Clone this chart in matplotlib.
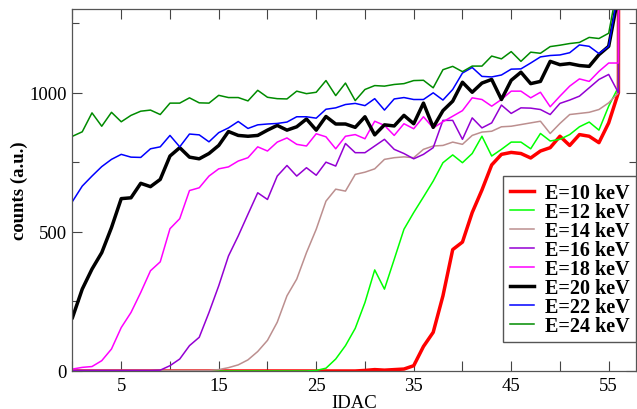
import numpy as np
import matplotlib
matplotlib.use('Agg')
import matplotlib.pyplot as plt
from matplotlib.ticker import MultipleLocator, FuncFormatter

plt.rcParams['font.family'] = ['Liberation Serif', 'DejaVu Serif']

# IDAC 스캔 값 (0..57), 마지막 점은 포화 (그래프 밖으로)
idac = list(range(58))

e10 = [0]*30 + [2, 5, 3, 5, 7, 19, 88, 139, 270, 436, 463, 569, 650, 740, 778, 785, 781, 765, 790,
                802, 843, 810, 849, 843, 820, 891, 1000, 40000]
e12 = [0]*25 + [2, 10, 43, 91, 153, 246, 363, 294, 401, 509, 569, 625, 682, 748, 776, 748, 781, 843,
                772, 796, 822, 822, 798, 853, 826, 832, 849, 877, 894, 865, 951, 1020, 40000]
e14 = [2]*14 + [2, 5, 12, 22, 40, 70, 110, 175, 270, 330, 425, 509, 610, 653, 646, 706, 714, 726, 760,
                766, 769, 766, 796, 808, 810, 822, 814, 846, 858, 861, 877, 879, 885, 891, 897, 853,
                889, 921, 925, 929, 939, 963, 999, 40000]
e16 = [2]*9 + [3, 19, 43, 91, 121, 210, 306, 413, 485, 563, 640, 616, 700, 738, 700, 730, 703, 750, 736,
               817, 784, 784, 808, 832, 796, 781, 762, 778, 802, 900, 900, 832, 909, 873, 891, 955, 925,
               945, 944, 939, 921, 961, 973, 987, 1017, 1047, 1065, 999, 40000]
e18 = [7, 13, 16, 37, 79, 156, 210, 282, 360, 392, 511, 547, 648, 658, 700, 726, 733, 754, 766, 805,
       790, 822, 837, 814, 808, 852, 841, 798, 843, 849, 834, 897, 882, 846, 888, 870, 913, 873, 895,
       915, 935, 981, 975, 951, 975, 1005, 1005, 981, 1001, 949, 987, 1023, 1049, 1040, 1076, 1106,
       1106, 40000]
e20 = [192, 294, 366, 425, 515, 619, 622, 674, 662, 688, 772, 802, 768, 762, 781, 810, 860, 846, 843,
       846, 865, 882, 865, 877, 905, 865, 914, 887, 887, 875, 913, 848, 884, 880, 918, 888, 962, 875,
       935, 969, 1037, 1001, 1034, 1047, 975, 1044, 1073, 1032, 1040, 1112, 1100, 1104, 1097, 1094,
       1136, 1166, 1350, 40000]
e22 = [609, 664, 700, 734, 760, 778, 768, 767, 798, 805, 846, 805, 851, 848, 823, 856, 873, 896, 871,
       884, 887, 889, 894, 913, 913, 908, 940, 945, 957, 961, 953, 978, 937, 977, 982, 975, 975, 999,
       973, 1011, 1070, 1090, 1058, 1056, 1063, 1084, 1085, 1106, 1128, 1133, 1135, 1143, 1171, 1166,
       1140, 1166, 1370, 40000]
e24 = [843, 859, 927, 879, 929, 895, 918, 933, 937, 921, 962, 962, 981, 963, 962, 990, 982, 982, 970,
       1008, 983, 978, 977, 1005, 996, 1001, 1043, 989, 1034, 971, 1011, 1025, 1023, 1029, 1032, 1043,
       1044, 1017, 1082, 1094, 1075, 1095, 1095, 1131, 1121, 1147, 1112, 1145, 1141, 1165, 1170, 1176,
       1180, 1198, 1194, 1213, 1400, 40000]

series = [
    (e10, 'E=10 keV', '#ff0000', 2.5),
    (e12, 'E=12 keV', '#00ff00', 1.1),
    (e14, 'E=14 keV', '#bc8f8f', 1.1),
    (e16, 'E=16 keV', '#9400d3', 1.1),
    (e18, 'E=18 keV', '#ff00ff', 1.1),
    (e20, 'E=20 keV', '#000000', 2.5),
    (e22, 'E=22 keV', '#0000ff', 1.1),
    (e24, 'E=24 keV', '#008b00', 1.1),
]

fig = plt.figure(figsize=(6.37, 4.10), dpi=100)
ax = fig.add_axes([0.1138, 0.0927, 0.8846, 0.8829])

for vals, label, color, lw in series:
    ax.plot(idac, vals, color=color, lw=lw, label=label)

ax.set_xlim(0, 57.8)
ax.set_ylim(0, 1300)

# 눈금: 안쪽 방향, 위/오른쪽에도 표시
ax.xaxis.set_major_locator(MultipleLocator(5))
ax.xaxis.set_major_formatter(FuncFormatter(lambda v, p: '%d' % v if int(round(v)) % 10 == 5 else ''))
ax.yaxis.set_major_locator(MultipleLocator(500))
ax.yaxis.set_minor_locator(MultipleLocator(250))
ax.tick_params(which='both', direction='in', top=True, right=True, colors='#444444',
               labelcolor='black', labelsize=13.5)
ax.tick_params(which='major', length=7, width=0.8, pad=4)
ax.tick_params(which='minor', length=5, width=0.8)
for sp in ax.spines.values():
    sp.set_color('#555555')
    sp.set_linewidth(0.9)

ax.set_xlabel('IDAC', fontsize=13.5, labelpad=0)
ax.set_ylabel('counts (a.u.)', fontsize=13.5, fontweight='bold', labelpad=1)

leg = ax.legend(loc='lower right', bbox_to_anchor=(1.0, 0.08), fancybox=False, framealpha=1,
                prop={'size': 14.5, 'weight': 'bold'}, handlelength=1.2, handletextpad=0.55,
                labelspacing=-0.05, borderpad=0.32, borderaxespad=0)
leg.get_frame().set_edgecolor('#555555')
leg.get_frame().set_linewidth(1.0)

plt.savefig('out.png', dpi=100)
